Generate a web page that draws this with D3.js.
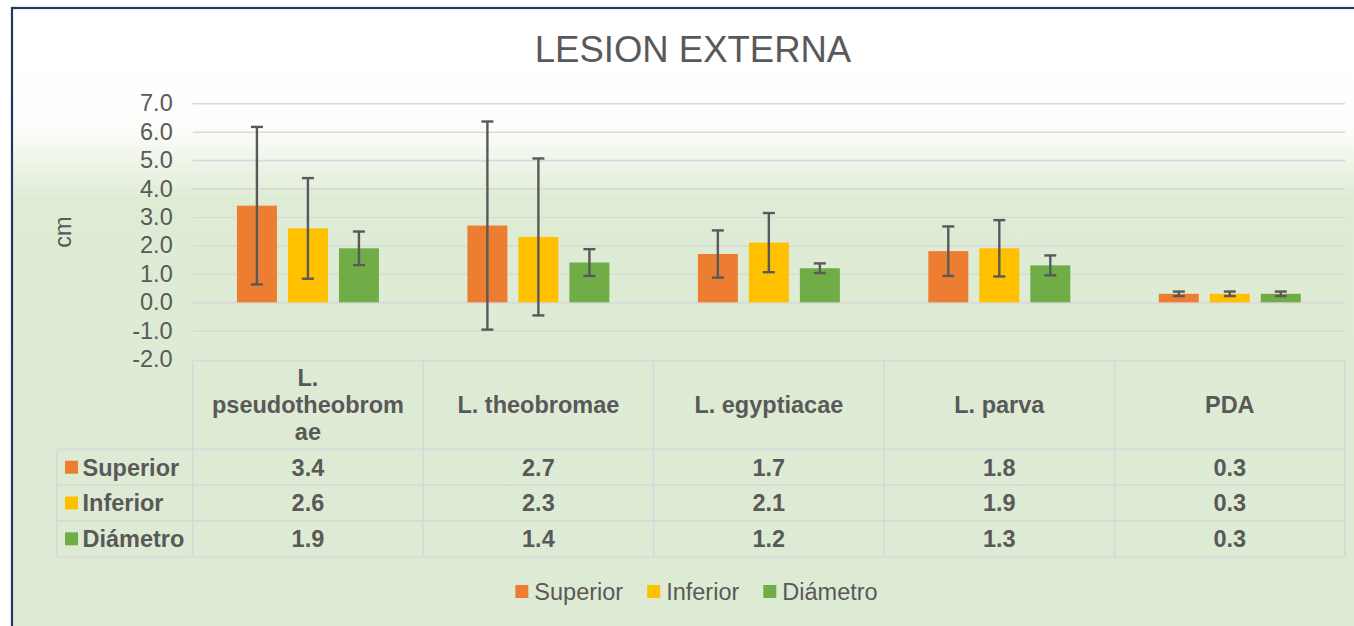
<!DOCTYPE html>
<html>
<head>
<meta charset="utf-8">
<script src="https://cdn.jsdelivr.net/npm/d3@7"></script>
<style>
  html, body { margin: 0; padding: 0; background: #ffffff; }
  svg { display: block; font-family: "Liberation Sans", Arial, sans-serif; }
</style>
</head>
<body>
<svg id="chart" width="1354" height="626"></svg>
<script>
// Lesion size per species (cm), mean and standard deviation
const categories = ["L. pseudotheobromae", "L. theobromae", "L. egyptiacae", "L. parva", "PDA"];
const seriesNames = ["Superior", "Inferior", "Diámetro"];
const superiorValues = [3.4, 2.7, 1.7, 1.8, 0.3];
const inferiorValues = [2.6, 2.3, 2.1, 1.9, 0.3];
const diametroValues = [1.9, 1.4, 1.2, 1.3, 0.3];
const superiorErr = [2.77, 3.66, 0.83, 0.87, 0.08];
const inferiorErr = [1.77, 2.76, 1.04, 0.99, 0.08];
const diametroErr = [0.59, 0.47, 0.17, 0.35, 0.08];
const seriesColors = ["#ED7D31", "#FFC000", "#70AD47"];
const yTicks = [-2, -1, 0, 1, 2, 3, 4, 5, 6, 7];
const titleText = "LESION EXTERNA";
const yAxisTitle = "cm";

const seriesValues = [superiorValues, inferiorValues, diametroValues];
const seriesErrs = [superiorErr, inferiorErr, diametroErr];
const rows = seriesNames.map((name, i) => ({
  name, color: seriesColors[i],
  points: categories.map((c, j) => ({ cat: c, value: seriesValues[i][j], err: seriesErrs[i][j] }))
}));

const svg = d3.select("#chart");
const textColor = "#595959";
const gridColor = "#d9d9d9";
const fontSize = 23.5;

// Chart area fill: white fading into light green
const defs = svg.append("defs");
const grad = defs.append("linearGradient").attr("id", "bg")
  .attr("gradientUnits", "userSpaceOnUse").attr("x1", 0).attr("y1", 7).attr("x2", 0).attr("y2", 626);
grad.append("stop").attr("offset", 0).attr("stop-color", "#ffffff");
grad.append("stop").attr("offset", 0.19).attr("stop-color", "#fdfefc");
grad.append("stop").attr("offset", 0.31).attr("stop-color", "#dfecd5");
grad.append("stop").attr("offset", 1).attr("stop-color", "#deebd4");

svg.append("rect").attr("x", 12).attr("y", 8).attr("width", 1380).attr("height", 640)
  .attr("fill", "url(#bg)");
svg.append("rect").attr("x", 12).attr("y", 8).attr("width", 1380).attr("height", 640)
  .attr("fill", "none").attr("stroke", "#1f3864").attr("stroke-width", 2.2);

// Title
svg.append("text").attr("x", 693).attr("y", 61.5).attr("text-anchor", "middle")
  .attr("font-size", 36.5).attr("fill", textColor).text(titleText);

// Scales
const plotLeft = 192.7, plotRight = 1345;
const x = d3.scaleBand().domain(categories).range([plotLeft, plotRight]).padding(0);
const y = d3.scaleLinear().domain([-2, 7]).range([359.2, 103.3]);
const groupWidth = 142;
const x1 = d3.scaleBand().domain(seriesNames).range([0, groupWidth]).paddingInner(0.2157).paddingOuter(0);
const groupOffset = (x.bandwidth() - groupWidth) / 2;

// Gridlines
const gridG = svg.append("g").attr("transform", `translate(${plotLeft},0)`)
  .call(d3.axisLeft(y).tickValues(yTicks.filter(t => t > -2)).tickSize(-(plotRight - plotLeft)).tickFormat(""));
gridG.select(".domain").remove();
gridG.selectAll(".tick line").attr("stroke", gridColor).attr("stroke-width", 1.6);

// Y tick labels
const axisG = svg.append("g").attr("transform", `translate(${plotLeft},0)`)
  .call(d3.axisLeft(y).tickValues(yTicks).tickSize(0).tickPadding(20).tickFormat(d => d.toFixed(1)));
axisG.select(".domain").remove();
axisG.selectAll(".tick text").attr("font-size", fontSize).attr("fill", textColor)
  .attr("font-family", "'Liberation Sans', Arial, sans-serif");

// Y axis title
svg.append("text").attr("transform", `translate(63,232) rotate(-90)`)
  .attr("text-anchor", "middle").attr("dominant-baseline", "central")
  .attr("font-size", fontSize).attr("fill", textColor).text(yAxisTitle);

// Bars
const seriesG = svg.append("g").selectAll("g").data(rows).join("g").attr("fill", d => d.color);
seriesG.each(function(s) {
  const g = d3.select(this);
  g.selectAll("rect").data(s.points).join("rect")
    .attr("x", d => x(d.cat) + groupOffset + x1(s.name))
    .attr("width", x1.bandwidth())
    .attr("y", d => y(Math.max(0, d.value)))
    .attr("height", d => Math.abs(y(d.value) - y(0)));
});

// Error bars
const capHalf = 6;
seriesG.each(function(s) {
  const g = d3.select(this).append("g").attr("stroke", textColor).attr("stroke-width", 2.4).attr("fill", "none");
  const cx = d => x(d.cat) + groupOffset + x1(s.name) + x1.bandwidth() / 2;
  g.selectAll(".stem").data(s.points).join("line").attr("class", "stem")
    .attr("x1", cx).attr("x2", cx)
    .attr("y1", d => y(d.value + d.err)).attr("y2", d => y(d.value - d.err));
  g.selectAll(".capT").data(s.points).join("line").attr("class", "capT")
    .attr("x1", d => cx(d) - capHalf).attr("x2", d => cx(d) + capHalf)
    .attr("y1", d => y(d.value + d.err)).attr("y2", d => y(d.value + d.err));
  g.selectAll(".capB").data(s.points).join("line").attr("class", "capB")
    .attr("x1", d => cx(d) - capHalf).attr("x2", d => cx(d) + capHalf)
    .attr("y1", d => y(d.value - d.err)).attr("y2", d => y(d.value - d.err));
});

// Data table under the axis
const tableLeft = 56.7;
const headerTop = y(-2) + 1.5;
const headerBottom = 449.3;
const rowH = 35.8;
const tableG = svg.append("g");
const tLine = (x1_, y1_, x2_, y2_) => tableG.append("line")
  .attr("x1", x1_).attr("y1", y1_).attr("x2", x2_).attr("y2", y2_)
  .attr("stroke", gridColor).attr("stroke-width", 1.8);

tLine(plotLeft, headerTop, plotRight, headerTop);
for (let i = 0; i <= rows.length; i++) {
  const yy = headerBottom + i * rowH;
  tLine(tableLeft, yy, plotRight, yy);
}
const tableBottom = headerBottom + rows.length * rowH;
tLine(tableLeft, headerBottom, tableLeft, tableBottom);
categories.forEach(c => tLine(x(c), headerTop, x(c), tableBottom));
tLine(plotRight, headerTop, plotRight, tableBottom);

// Header labels, wrapped to the column width
function wrapLines(str, maxW, measure) {
  const words = str.split(" ");
  const lines = [];
  let cur = "";
  words.forEach(w => {
    const tryLine = cur ? cur + " " + w : w;
    if (measure(tryLine) <= maxW) { cur = tryLine; return; }
    if (cur) { lines.push(cur); cur = ""; }
    let piece = "";
    for (const ch of w) {
      if (measure(piece + ch) <= maxW) piece += ch;
      else { lines.push(piece); piece = ch; }
    }
    cur = piece;
  });
  if (cur) lines.push(cur);
  return lines;
}
const probe = svg.append("text").attr("font-size", fontSize).attr("font-weight", "bold").attr("visibility", "hidden");
const measure = s => { probe.text(s); return probe.node().getComputedTextLength(); };
const lineH = 27;
categories.forEach(c => {
  const lines = wrapLines(c, x.bandwidth() - 30, measure);
  const cy = (headerTop + headerBottom) / 2;
  const t = tableG.append("text").attr("text-anchor", "middle").attr("font-size", fontSize)
    .attr("font-weight", "bold").attr("fill", textColor);
  lines.forEach((ln, i) => {
    t.append("tspan").attr("x", x(c) + x.bandwidth() / 2)
      .attr("y", cy + (i - (lines.length - 1) / 2) * lineH).attr("dy", "0.36em").text(ln);
  });
});
probe.remove();

// Row keys and values
rows.forEach((r, i) => {
  const cy = headerBottom + i * rowH + rowH / 2;
  tableG.append("rect").attr("x", 65).attr("y", cy - 6.5).attr("width", 13).attr("height", 13).attr("fill", r.color);
  tableG.append("text").attr("x", 82.5).attr("y", cy).attr("dy", "0.36em")
    .attr("font-size", fontSize).attr("font-weight", "bold").attr("fill", textColor).text(r.name);
  r.points.forEach(p => {
    tableG.append("text").attr("x", x(p.cat) + x.bandwidth() / 2).attr("y", cy).attr("dy", "0.36em")
      .attr("text-anchor", "middle").attr("font-size", fontSize).attr("font-weight", "bold")
      .attr("fill", textColor).text(p.value.toFixed(1));
  });
});

// Legend
const legendG = svg.append("g");
let lx = 0;
rows.forEach((r, i) => {
  const item = legendG.append("g").attr("transform", `translate(${lx},0)`);
  item.append("rect").attr("x", 0).attr("y", -6.5).attr("width", 13).attr("height", 13).attr("fill", r.color);
  const t = item.append("text").attr("x", 19).attr("y", 0).attr("dy", "0.36em")
    .attr("font-size", fontSize).attr("fill", textColor).text(r.name);
  lx += 19 + t.node().getComputedTextLength() + 24;
});
const legendW = lx - 24;
legendG.attr("transform", `translate(${696.5 - legendW / 2},591.5)`);
</script>
</body>
</html>
